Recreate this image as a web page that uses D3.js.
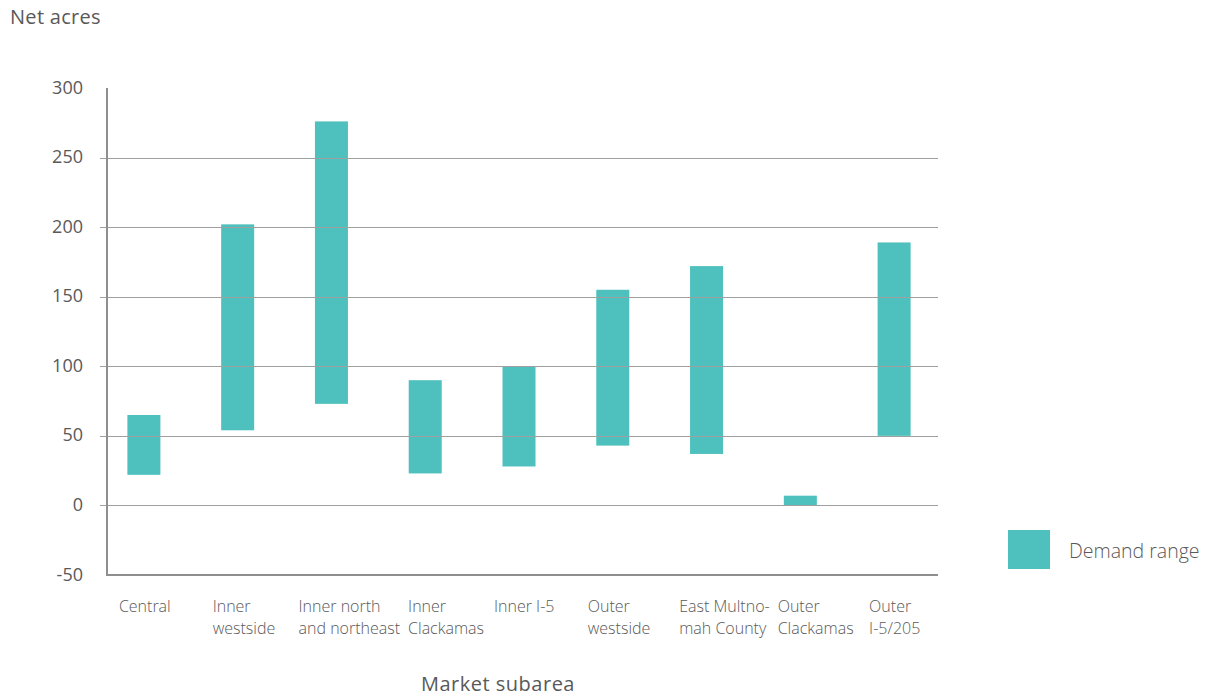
<!DOCTYPE html>
<html>
<head>
<meta charset="utf-8">
<script src="https://cdn.jsdelivr.net/npm/d3@7"></script>
<style>
  html, body { margin: 0; padding: 0; background: #ffffff; }
  svg { display: block; font-family: "Open Sans", "Noto Sans", sans-serif; }
</style>
</head>
<body>
<svg id="chart" width="1214" height="696"></svg>
<script>
// Market subareas (two-line labels)
const categories = [
  ["Central"],
  ["Inner", "westside"],
  ["Inner north", "and northeast"],
  ["Inner", "Clackamas"],
  ["Inner I-5"],
  ["Outer", "westside"],
  ["East Multno-", "mah County"],
  ["Outer", "Clackamas"],
  ["Outer", "I-5/205"]
];
// Demand range per subarea, net acres
const demandLow  = [22, 54, 73, 23, 28, 43, 37, 0, 50];
const demandHigh = [65, 202, 276, 90, 100, 155, 172, 7, 189];
const yTicks = [-50, 0, 50, 100, 150, 200, 250, 300];

const svg = d3.select("#chart");
const teal = "#4ec0bd";
const grey = "#8f8f8f";
const textCol = "#595959";

const plotLeft = 107, plotRight = 938, plotTop = 88, plotBottom = 575;

const y = d3.scaleLinear().domain([-50, 300]).range([plotBottom, plotTop]);
const x = d3.scaleBand()
  .domain(categories.map((c, i) => i))
  .range([97, 941])
  .paddingInner(0.648)
  .paddingOuter(0.324);

const rows = categories.map((c, i) => ({ i, label: c, lo: demandLow[i], hi: demandHigh[i] }));

// Bars
svg.append("g").selectAll("rect").data(rows).join("rect")
  .attr("x", d => x(d.i))
  .attr("width", x.bandwidth())
  .attr("y", d => y(d.hi))
  .attr("height", d => y(d.lo) - y(d.hi))
  .attr("fill", teal);

// Gridlines with short ticks left of the axis
const gridVals = yTicks.filter(v => v > -50 && v < 300);
svg.append("g").selectAll("line").data(gridVals).join("line")
  .attr("x1", plotLeft - 7).attr("x2", plotRight)
  .attr("y1", d => Math.round(y(d)) + 0.5).attr("y2", d => Math.round(y(d)) + 0.5)
  .attr("stroke", "#a0a0a0").attr("stroke-width", 1);

// Y axis labels
const yAxis = d3.axisLeft(y).tickValues(yTicks).tickFormat(d => String(d)).tickSize(0).tickPadding(0);
const gy = svg.append("g").attr("transform", "translate(83,0)").call(yAxis);
gy.select(".domain").remove();
gy.selectAll("text")
  .attr("fill", textCol)
  .style("font-size", "18px")
  .style("font-family", "'Open Sans', sans-serif")
  .attr("dy", "0.28em");

// Axis frame
svg.append("line").attr("x1", plotLeft).attr("x2", plotLeft).attr("y1", plotTop).attr("y2", plotBottom + 1)
  .attr("stroke", grey).attr("stroke-width", 2);
svg.append("line").attr("x1", plotLeft - 1).attr("x2", plotRight).attr("y1", plotBottom).attr("y2", plotBottom)
  .attr("stroke", grey).attr("stroke-width", 2);

// Category labels: left-aligned blocks near each bar, spread apart where they would collide
const lab = svg.append("g").selectAll("text").data(rows).join("text")
  .attr("y", 612)
  .attr("fill", textCol)
  .style("font-size", "16px")
  .style("font-weight", 300);
lab.selectAll("tspan").data(d => d.label).join("tspan")
  .attr("dy", (d, k) => k === 0 ? 0 : 22)
  .text(d => d);

const blocks = [];
lab.each(function (d) {
  let w = 0;
  d3.select(this).selectAll("tspan").each(function () { w = Math.max(w, this.getComputedTextLength()); });
  blocks.push({ left: x(d.i) + x.bandwidth() / 2 - 25, w });
});
const gap = 8;
for (let k = 0; k < blocks.length - 1; k++) {
  const a = blocks[k], b = blocks[k + 1];
  const overlap = a.left + a.w + gap - b.left;
  if (overlap > 0) { a.left -= overlap / 2; b.left += overlap / 2; }
}
lab.each(function (d, k) {
  d3.select(this).selectAll("tspan").attr("x", blocks[k].left);
});

// Axis titles
svg.append("text").attr("x", 10).attr("y", 24)
  .attr("fill", textCol).style("font-size", "20px").style("letter-spacing", "0.3px").text("Net acres");
svg.append("text").attr("x", 498).attr("y", 691).attr("text-anchor", "middle")
  .attr("fill", textCol).style("font-size", "20px").style("letter-spacing", "0.5px").text("Market subarea");

// Legend
const lg = svg.append("g").attr("transform", "translate(1008,530)");
lg.append("rect").attr("width", 42).attr("height", 39).attr("fill", teal);
lg.append("text").attr("x", 61).attr("y", 28)
  .attr("fill", textCol).style("font-size", "19.5px").style("font-weight", 300).text("Demand range");
</script>
</body>
</html>
